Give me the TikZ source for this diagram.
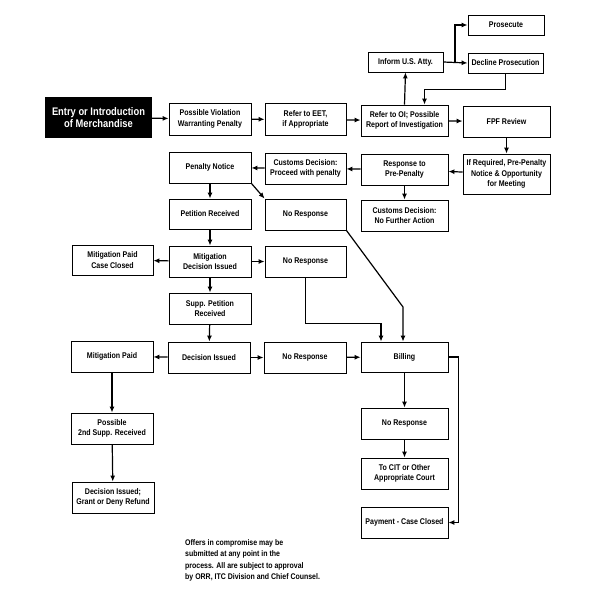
\documentclass[tikz,border=0pt]{standalone}
\usepackage{fontspec}
\setmainfont{Liberation Sans}[FakeStretch=0.85]
\usetikzlibrary{arrows.meta}
\tikzset{
  stepbox/.style={rectangle, draw, line width=0.8pt, fill=white, align=center,
    inner sep=1pt, font=\bfseries\fontsize{8.3}{10.5}\selectfont},
  flow/.style={line width=1.2pt, -{Latex[length=6pt,width=5pt]}},
  join/.style={line width=1.2pt}
}
\begin{document}
\begin{tikzpicture}[x=1pt,y=-1pt]
\useasboundingbox (0,0) rectangle (600,600);
% Start
\node[rectangle, fill=black, text=white, align=center, minimum width=107pt, minimum height=41pt,
  font=\bfseries\fontsize{11}{12.5}\selectfont] (entry) at (98.5,117.5) {Entry or Introduction\\of Merchandise};

% Top row
\node[stepbox, minimum width=82pt, minimum height=32pt] (viol) at (210,119) {Possible Violation\\Warranting Penalty};
\node[stepbox, minimum width=81pt, minimum height=32pt] (eet) at (305.5,119.5) {Refer to EET,\\if Appropriate};
\node[stepbox, minimum width=87pt, minimum height=31pt] (oi) at (404.5,120.5) {Refer to OI; Possible\\Report of Investigation};
\node[stepbox, minimum width=87pt, minimum height=31pt] (fpf) at (506.5,121.5) {FPF Review};

% U.S. Attorney branch
\node[stepbox, minimum width=75pt, minimum height=20pt] (atty) at (405.5,62) {Inform U.S. Atty.};
\node[stepbox, minimum width=76pt, minimum height=20pt] (pros) at (506,25) {Prosecute};
\node[stepbox, minimum width=75pt, minimum height=20pt] (decl) at (505.5,63) {Decline Prosecution};

% Pre-penalty row
\node[stepbox, minimum width=87pt, minimum height=40pt] (prepen) at (506.5,174) {If Required, Pre-Penalty\\Notice \& Opportunity\\for Meeting};
\node[stepbox, minimum width=87pt, minimum height=31pt] (resp) at (404.5,169.5) {Response to\\Pre-Penalty};
\node[stepbox, minimum width=81pt, minimum height=31pt] (procd) at (305.5,168.5) {Customs Decision:\\Proceed with penalty};
\node[stepbox, minimum width=82pt, minimum height=31pt] (notice) at (210,167.5) {Penalty Notice};
\node[stepbox, minimum width=87pt, minimum height=31pt] (nofurther) at (404.5,215.5) {Customs Decision:\\No Further Action};

% Petition column
\node[stepbox, minimum width=82pt, minimum height=30pt] (petition) at (210,214) {Petition Received};
\node[stepbox, minimum width=81pt, minimum height=31pt] (noresp1) at (305.5,214.5) {No Response};
\node[stepbox, minimum width=82pt, minimum height=31pt] (mitdec) at (210,261.5) {Mitigation\\Decision Issued};
\node[stepbox, minimum width=81pt, minimum height=30pt] (mitpaid1) at (112.5,260) {Mitigation Paid\\Case Closed};
\node[stepbox, minimum width=81pt, minimum height=31pt] (noresp2) at (305.5,261.5) {No Response};
\node[stepbox, minimum width=82pt, minimum height=31pt] (supp) at (210,308.5) {Supp. Petition\\Received};
\node[stepbox, minimum width=82pt, minimum height=31pt] (decision) at (209,357.5) {Decision Issued};
\node[stepbox, minimum width=82pt, minimum height=31pt] (mitpaid2) at (112,356.5) {Mitigation Paid};
\node[stepbox, minimum width=82pt, minimum height=31pt] (noresp3) at (305,357.5) {No Response};
\node[stepbox, minimum width=82pt, minimum height=31pt] (second) at (112,428.5) {Possible\\2nd Supp. Received};
\node[stepbox, minimum width=82pt, minimum height=31pt] (refund) at (113,497.5) {Decision Issued;\\Grant or Deny Refund};

% Billing column
\node[stepbox, minimum width=87pt, minimum height=30pt] (billing) at (404.5,357) {Billing};
\node[stepbox, minimum width=87pt, minimum height=31pt] (noresp4) at (404.5,423.5) {No Response};
\node[stepbox, minimum width=87pt, minimum height=31pt] (cit) at (404.5,473.5) {To CIT or Other\\Appropriate Court};
\node[stepbox, minimum width=87pt, minimum height=31pt] (payment) at (404.5,522.5) {Payment - Case Closed};

% Note
\node[anchor=north west, align=left, inner sep=0pt, font=\bfseries\fontsize{8.2}{11.5}\selectfont] (note) at (185,539)
  {Offers in compromise may be\\submitted at any point in the\\process. All are subject to approval\\by ORR, ITC Division and Chief Counsel.};

% Bend points
\coordinate (split) at (455,62);
\coordinate (bend1) at (403,307);

% Connections
\draw[flow] (entry) -- (viol);
\draw[flow] (viol) -- (eet);
\draw[flow] (eet) -- (oi);
\draw[flow] (oi) -- (fpf);
\draw[flow] (oi.north) -- (atty.south);
\draw[flow] (atty.east) -- (decl.west);
\draw[flow] (split) |- (pros.west);
\draw[flow] (decl.south) -- ++(0,16) -| ([xshift=20pt]oi.north);
\draw[flow] (fpf) -- (prepen);
\draw[flow] (prepen) -- (resp);
\draw[flow] (resp) -- (procd);
\draw[flow] (procd) -- (notice);
\draw[flow] (resp) -- (nofurther);
\draw[flow] (notice) -- (petition);
\draw[flow] (notice.south east) -- (noresp1.north west);
\draw[flow] (petition) -- (mitdec);
\draw[flow] (mitdec) -- (mitpaid1);
\draw[flow] (mitdec) -- (noresp2);
\draw[flow] (mitdec) -- (supp);
\draw[flow] (supp) -- (decision);
\draw[flow] (decision) -- (mitpaid2);
\draw[flow] (decision) -- (noresp3);
\draw[flow] (noresp3) -- (billing);
\draw[flow] (mitpaid2) -- (second);
\draw[flow] (second) -- (refund);
\draw[flow] (noresp1.south east) -- (bend1) -- (bend1 |- billing.north);
\draw[flow] (noresp2.south) -- ++(0,46) -| ([xshift=-23.5pt]billing.north);
\draw[flow] (billing) -- (noresp4);
\draw[flow] (noresp4) -- (cit);
\draw[flow] (billing.east) -- ++(10,0) |- (payment.east);
\end{tikzpicture}
\end{document}
